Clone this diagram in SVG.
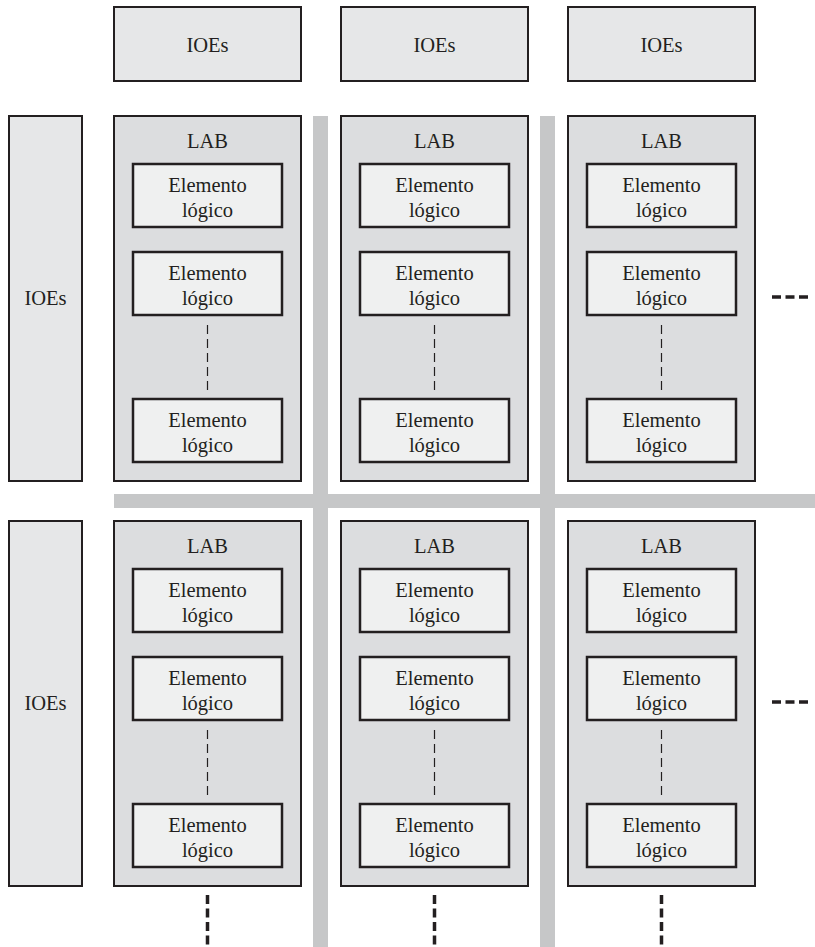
<svg xmlns="http://www.w3.org/2000/svg" width="815" height="947" viewBox="0 0 815 947">
<style>
.ioe{fill:#e6e7e8;stroke:#231f20;stroke-width:2}
.lab{fill:#dcdddf;stroke:#231f20;stroke-width:2}
.el{fill:#eff0f0;stroke:#231f20;stroke-width:2.5}
.bus{fill:#c6c7c8}
.dl{stroke:#231f20;stroke-width:1.2;stroke-dasharray:9,5;fill:none}
.more{stroke:#231f20;stroke-width:3.5;stroke-dasharray:9,4.5;fill:none}
</style>
<g id="routing">
<rect class="bus" x="313" y="116" width="15" height="831"/>
<rect class="bus" x="540" y="116" width="15" height="831"/>
<rect class="bus" x="114" y="494" width="701" height="14"/>
</g>
<g font-family="Liberation Serif" font-size="20.5" fill="#231f20" text-anchor="middle">
<g id="ioe-top-1"><rect class="ioe" x="114" y="7" width="187" height="74"/><text x="207.5" y="52">IOEs</text></g>
<g id="ioe-top-2"><rect class="ioe" x="341" y="7" width="187" height="74"/><text x="434.5" y="52">IOEs</text></g>
<g id="ioe-top-3"><rect class="ioe" x="568" y="7" width="187" height="74"/><text x="661.5" y="52">IOEs</text></g>
<g id="ioe-left-1"><rect class="ioe" x="9" y="116" width="73" height="365"/><text x="45.5" y="305">IOEs</text></g>
<g id="ioe-left-2"><rect class="ioe" x="9" y="521" width="73" height="365"/><text x="45.5" y="710">IOEs</text></g>

<g id="lab-1-1">
<rect class="lab" x="114" y="116" width="187" height="365"/><text x="207.5" y="148">LAB</text>
<rect class="el" x="133" y="164" width="149" height="63"/><text x="207.5" y="192">Elemento</text><text x="207.5" y="217">lógico</text>
<rect class="el" x="133" y="252" width="149" height="63"/><text x="207.5" y="280">Elemento</text><text x="207.5" y="305">lógico</text>
<rect class="el" x="133" y="399" width="149" height="63"/><text x="207.5" y="427">Elemento</text><text x="207.5" y="452">lógico</text>
</g>
<g id="lab-1-2">
<rect class="lab" x="341" y="116" width="187" height="365"/><text x="434.5" y="148">LAB</text>
<rect class="el" x="360" y="164" width="149" height="63"/><text x="434.5" y="192">Elemento</text><text x="434.5" y="217">lógico</text>
<rect class="el" x="360" y="252" width="149" height="63"/><text x="434.5" y="280">Elemento</text><text x="434.5" y="305">lógico</text>
<rect class="el" x="360" y="399" width="149" height="63"/><text x="434.5" y="427">Elemento</text><text x="434.5" y="452">lógico</text>
</g>
<g id="lab-1-3">
<rect class="lab" x="568" y="116" width="187" height="365"/><text x="661.5" y="148">LAB</text>
<rect class="el" x="587" y="164" width="149" height="63"/><text x="661.5" y="192">Elemento</text><text x="661.5" y="217">lógico</text>
<rect class="el" x="587" y="252" width="149" height="63"/><text x="661.5" y="280">Elemento</text><text x="661.5" y="305">lógico</text>
<rect class="el" x="587" y="399" width="149" height="63"/><text x="661.5" y="427">Elemento</text><text x="661.5" y="452">lógico</text>
</g>
<g id="lab-2-1">
<rect class="lab" x="114" y="521" width="187" height="365"/><text x="207.5" y="553">LAB</text>
<rect class="el" x="133" y="569" width="149" height="63"/><text x="207.5" y="597">Elemento</text><text x="207.5" y="622">lógico</text>
<rect class="el" x="133" y="657" width="149" height="63"/><text x="207.5" y="685">Elemento</text><text x="207.5" y="710">lógico</text>
<rect class="el" x="133" y="804" width="149" height="63"/><text x="207.5" y="832">Elemento</text><text x="207.5" y="857">lógico</text>
</g>
<g id="lab-2-2">
<rect class="lab" x="341" y="521" width="187" height="365"/><text x="434.5" y="553">LAB</text>
<rect class="el" x="360" y="569" width="149" height="63"/><text x="434.5" y="597">Elemento</text><text x="434.5" y="622">lógico</text>
<rect class="el" x="360" y="657" width="149" height="63"/><text x="434.5" y="685">Elemento</text><text x="434.5" y="710">lógico</text>
<rect class="el" x="360" y="804" width="149" height="63"/><text x="434.5" y="832">Elemento</text><text x="434.5" y="857">lógico</text>
</g>
<g id="lab-2-3">
<rect class="lab" x="568" y="521" width="187" height="365"/><text x="661.5" y="553">LAB</text>
<rect class="el" x="587" y="569" width="149" height="63"/><text x="661.5" y="597">Elemento</text><text x="661.5" y="622">lógico</text>
<rect class="el" x="587" y="657" width="149" height="63"/><text x="661.5" y="685">Elemento</text><text x="661.5" y="710">lógico</text>
<rect class="el" x="587" y="804" width="149" height="63"/><text x="661.5" y="832">Elemento</text><text x="661.5" y="857">lógico</text>
</g>
</g>
<g id="connectors">
<line class="dl" x1="207.5" y1="325" x2="207.5" y2="393"/>
<line class="dl" x1="434.5" y1="325" x2="434.5" y2="393"/>
<line class="dl" x1="661.5" y1="325" x2="661.5" y2="393"/>
<line class="dl" x1="207.5" y1="730" x2="207.5" y2="798"/>
<line class="dl" x1="434.5" y1="730" x2="434.5" y2="798"/>
<line class="dl" x1="661.5" y1="730" x2="661.5" y2="798"/>
<line class="more" x1="772" y1="297" x2="812" y2="297"/>
<line class="more" x1="772" y1="702" x2="812" y2="702"/>
<line class="more" x1="207.5" y1="895" x2="207.5" y2="947"/>
<line class="more" x1="434.5" y1="895" x2="434.5" y2="947"/>
<line class="more" x1="661.5" y1="895" x2="661.5" y2="947"/>
</g>
</svg>
